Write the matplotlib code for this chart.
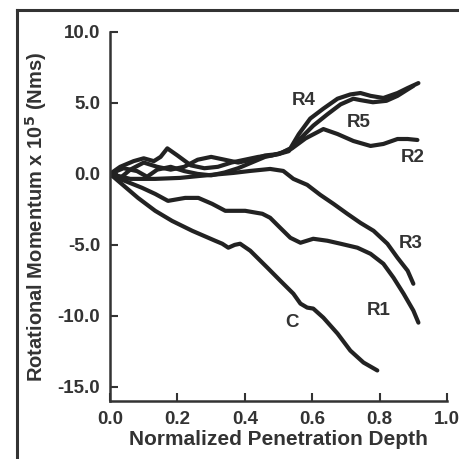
import matplotlib
matplotlib.use('Agg')
import matplotlib.pyplot as plt
from matplotlib.lines import Line2D

plt.rcParams['font.family'] = ['Liberation Sans', 'DejaVu Sans']
plt.rcParams['font.weight'] = 'bold'

# 曲线数据 (归一化穿透深度, 转动动量 x 10^5)
c_x = [0.0, 0.024, 0.083, 0.134, 0.184, 0.244, 0.312, 0.333, 0.351, 0.37, 0.386, 0.416,
       0.467, 0.505, 0.544, 0.565, 0.585, 0.603, 0.633, 0.675, 0.713, 0.752, 0.793]
c_y = [0.0, -0.49, -1.69, -2.6, -3.31, -4.01, -4.71, -4.92, -5.2, -5.0, -4.92, -5.41,
       -6.61, -7.52, -8.44, -9.14, -9.42, -9.49, -10.13, -11.25, -12.45, -13.29, -13.85]

r1_x = [0.0, 0.045, 0.095, 0.134, 0.172, 0.223, 0.262, 0.303, 0.342, 0.401, 0.452, 0.475,
        0.505, 0.535, 0.565, 0.603, 0.645, 0.684, 0.734, 0.773, 0.811, 0.841, 0.871, 0.9, 0.915]
r1_y = [-0.07, -0.5, -0.98, -1.41, -1.9, -1.69, -1.69, -2.11, -2.6, -2.6, -2.81, -3.09,
        -3.8, -4.5, -4.85, -4.57, -4.71, -4.92, -5.2, -5.63, -6.33, -7.31, -8.44, -9.63, -10.48]

r3_x = [0.0, 0.06, 0.134, 0.208, 0.267, 0.366, 0.416, 0.475, 0.514, 0.544, 0.585, 0.624,
        0.663, 0.704, 0.743, 0.782, 0.823, 0.853, 0.883, 0.9]
r3_y = [0.0, -0.35, -0.35, -0.28, -0.14, 0.07, 0.21, 0.35, 0.21, -0.35, -0.77, -1.48,
        -2.11, -2.81, -3.45, -4.01, -4.92, -5.91, -6.82, -7.74]

r4_x = [0.0, 0.03, 0.07, 0.1, 0.13, 0.15, 0.17, 0.2, 0.24, 0.28, 0.32, 0.36, 0.4, 0.44,
        0.48, 0.51, 0.535, 0.56, 0.594, 0.633, 0.675, 0.713, 0.743, 0.773, 0.811, 0.853,
        0.883, 0.915]
r4_y = [0.0, 0.5, 0.9, 1.1, 0.9, 1.2, 1.8, 1.3, 0.6, 0.4, 0.5, 0.8, 1.0, 1.2,
        1.3, 1.5, 1.8, 2.8, 3.9, 4.6, 5.3, 5.6, 5.7, 5.5, 5.35, 5.7, 6.05, 6.4]

r5_x = [0.0, 0.03, 0.06, 0.1, 0.14, 0.18, 0.22, 0.26, 0.3, 0.34, 0.38, 0.42, 0.46, 0.5,
        0.53, 0.565, 0.603, 0.645, 0.684, 0.722, 0.743, 0.78, 0.82, 0.853, 0.883, 0.9]
r5_y = [0.0, -0.3, 0.3, 0.8, 0.5, 0.3, 0.5, 1.0, 1.2, 1.0, 0.8, 1.0, 1.3, 1.4,
        1.6, 2.5, 3.4, 4.2, 4.9, 5.3, 5.2, 5.05, 5.15, 5.5, 5.95, 6.2]

r2_x = [0.0, 0.04, 0.08, 0.11, 0.14, 0.18, 0.22, 0.26, 0.3, 0.34, 0.38, 0.42, 0.46, 0.5,
        0.54, 0.58, 0.633, 0.675, 0.722, 0.773, 0.811, 0.853, 0.883, 0.912]
r2_y = [0.0, 0.4, 0.2, -0.2, 0.3, 0.5, 0.2, 0.0, -0.1, 0.1, 0.4, 0.8, 1.2, 1.4,
        1.8, 2.5, 3.16, 2.81, 2.32, 1.97, 2.11, 2.46, 2.46, 2.39]

curves = [(c_x, c_y), (r1_x, r1_y), (r3_x, r3_y), (r2_x, r2_y), (r5_x, r5_y), (r4_x, r4_y)]

# 标注文字和位置
labels = ['R4', 'R5', 'R2', 'R3', 'R1', 'C']
label_x = [0.574, 0.737, 0.897, 0.892, 0.797, 0.541]
label_y = [5.2, 3.6, 1.15, -4.9, -9.6, -10.5]

x_ticks = [0.0, 0.2, 0.4, 0.6, 0.8, 1.0]
y_ticks = [10.0, 5.0, 0.0, -5.0, -10.0, -15.0]

fig = plt.figure(figsize=(4.59, 4.59), dpi=100)
ax = fig.add_axes([0.2397, 0.1264, 0.7343, 0.8039])

for xs, ys in curves:
    ax.plot(xs, ys, color='#222222', linewidth=3.0, solid_capstyle='round')

for t, lx, ly in zip(labels, label_x, label_y):
    ax.text(lx, ly, t, fontsize=13.5, fontweight='bold', color='#333333',
            ha='center', va='center')

ax.set_xlim(0, 1.0)
ax.set_ylim(-16, 10)
ax.set_xticks(x_ticks)
ax.set_xticklabels(['%.1f' % v for v in x_ticks])
ax.set_yticks(y_ticks)
ax.set_yticklabels(['%.1f' % v for v in y_ticks])
ax.tick_params(direction='in', length=6, width=1.5, labelsize=13.5, colors='#333333', pad=7)

for s in ['top', 'right']:
    ax.spines[s].set_visible(False)
for s in ['left', 'bottom']:
    ax.spines[s].set_linewidth(1.8)
    ax.spines[s].set_color('#333333')

ax.set_xlabel('Normalized Penetration Depth', fontsize=15, fontweight='bold',
              color='#333333', labelpad=2)
ax.set_ylabel('Rotational Momentum x 10$^\\mathbf{5}$ (Nms)', fontsize=14.5,
              fontweight='bold', color='#333333', labelpad=6)

# 外框
fig.add_artist(Line2D([17 / 459, 17 / 459], [0, 1 - 10 / 459], color='#333333', linewidth=2.2))
fig.add_artist(Line2D([17 / 459, 1], [1 - 10 / 459, 1 - 10 / 459], color='#333333', linewidth=2.2))

fig.savefig('out.png', dpi=100)
